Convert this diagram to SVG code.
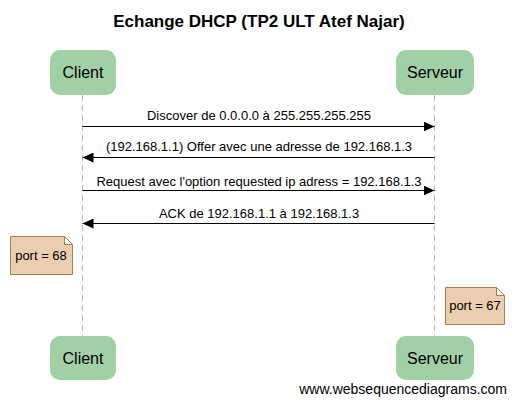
<svg xmlns="http://www.w3.org/2000/svg" width="517" height="404" viewBox="0 0 517 404">
<defs>
<marker id="ah" markerWidth="11" markerHeight="10" refX="11" refY="5" orient="auto" markerUnits="userSpaceOnUse">
<path d="M0,0 L11,5 L0,10 z" fill="#000"/>
</marker>
<style>
text{font-family:"Liberation Sans",Arial,sans-serif;fill:#000}
.actor rect{fill:#a2d0a6;stroke:none}
.actor text{font-size:16px;text-anchor:middle}
.life{stroke:#b8b8b8;stroke-width:1;stroke-dasharray:6,4}
.msg line{stroke:#000;stroke-width:1;marker-end:url(#ah)}
.msg text{font-size:13px;text-anchor:middle}
.note path{fill:#eccdb0;stroke:#a08050;stroke-width:1}
.note text{font-size:13px;text-anchor:middle}
</style>
</defs>
<rect width="517" height="404" fill="#fff"/>
<text x="259" y="27" font-size="17" font-weight="bold" text-anchor="middle">Echange DHCP (TP2 ULT Atef Najar)</text>
<g id="lifelines">
<line class="life" x1="82.5" y1="95" x2="82.5" y2="336"/>
<line class="life" x1="434.5" y1="95" x2="434.5" y2="336"/>
</g>
<g id="client-top" class="actor"><rect x="50" y="50" width="66" height="45" rx="10"/><text x="83" y="78">Client</text></g>
<g id="serveur-top" class="actor"><rect x="396" y="50" width="78" height="45" rx="10"/><text x="435" y="78">Serveur</text></g>
<g id="client-bottom" class="actor"><rect x="50" y="336" width="66" height="44" rx="10"/><text x="83" y="364">Client</text></g>
<g id="serveur-bottom" class="actor"><rect x="396" y="336" width="78" height="44" rx="10"/><text x="435" y="364">Serveur</text></g>
<g id="connectors" class="msg">
<line x1="82.5" y1="126.5" x2="434.5" y2="126.5"/>
<text x="259" y="120">Discover de 0.0.0.0 à 255.255.255.255</text>
<line x1="434.5" y1="157.5" x2="82.5" y2="157.5"/>
<text x="259" y="151">(192.168.1.1) Offer avec une adresse de 192.168.1.3</text>
<line x1="82.5" y1="190.5" x2="434.5" y2="190.5"/>
<text x="259" y="186">Request avec l'option requested ip adress = 192.168.1.3</text>
<line x1="434.5" y1="223.5" x2="82.5" y2="223.5"/>
<text x="259" y="218">ACK de 192.168.1.1 à 192.168.1.3</text>
</g>
<g id="note-client" class="note"><path d="M10.5,236.5 H64.5 L72.5,244.5 V274.5 H10.5 Z M64.5,236.5 V244.5 H72.5"/><text x="41" y="260">port = 68</text></g>
<g id="note-serveur" class="note"><path d="M445.5,287.5 H496.5 L504.5,295.5 V324.5 H445.5 Z M496.5,287.5 V295.5 H504.5"/><text x="475" y="310">port = 67</text></g>
<text x="507" y="394" font-size="14" text-anchor="end">www.websequencediagrams.com</text>
</svg>
